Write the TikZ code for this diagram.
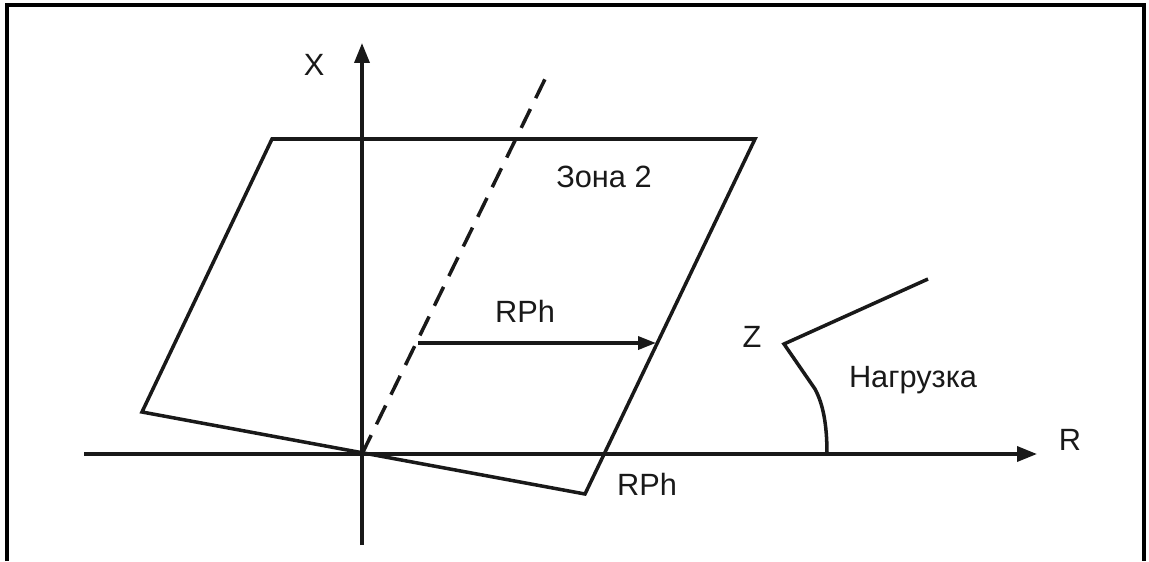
\documentclass[tikz,border=0pt]{standalone}
\usepackage{fontspec}
\setmainfont{Liberation Sans}
\usetikzlibrary{positioning, calc, arrows.meta}
\tikzset{
  >={Triangle[length=0.4cm, width=0.3cm]},
  frameline/.style={
    line width=2pt, draw=black
  },
  axisline/.style={
    line width=2pt, draw=black!90
  },
  zoneline/.style={
    line width=2pt, draw=black!90, line join=miter
  },
  dashline/.style={
    line width=2pt, draw=black!90, dash pattern=on 0.42cm off 0.24cm
  },
  label/.style={
    font=\fontsize{17.5}{20}\selectfont, text=black!90, inner sep=0pt
  },
}
\begin{document}
\begin{tikzpicture}[x=0.02cm, y=-0.02cm]

% ---- Canvas --------------------------------------------------------
\useasboundingbox (0,0) rectangle (1149,561);

% ---- Points --------------------------------------------------------
% origin and axis ends
\coordinate (orig)   at (362, 454);
\coordinate (xlow)   at (362, 545);
\coordinate (xtop)   at (362,  43);
\coordinate (rleft)  at ( 84, 454);
\coordinate (rright) at (1037, 454);

% zone 2 corners
\coordinate (zTL) at (272, 139);
\coordinate (zTR) at (755, 139);
\coordinate (zBR) at (585, 494);
\coordinate (zBL) at (142, 412);

% dashed line end, RPh arrow
\coordinate (dtop)  at (547,  75);
\coordinate (rphA)  at (418, 343);
\coordinate (rphB)  at (656, 343);

% load line
\coordinate (ldtop) at (928, 279);
\coordinate (ldZ)   at (784, 344);
\coordinate (ldK)   at (815, 389);
\coordinate (ldR)   at (827, 454);

% frame corners (open at the bottom)
\coordinate (fTL) at (7, 5);
\coordinate (fTR) at (1144, 5);
\coordinate (fBL) at (7, 561);
\coordinate (fBR) at (1144, 561);

% ---- Labels --------------------------------------------------------
\node[label] (lblX)    at (314,  65) {X};
\node[label] (lblR)    at (1070, 440) {R};
\node[label] (lblZ)    at (752, 337) {Z};
\node[label] (lblZone) at (604, 177) {Зона 2};
\node[label] (lblRPh)  at (525, 311) {RPh};
\node[label] (lblRPhB) at (647, 484) {RPh};
\node[label] (lblLoad) at (913, 380) {Нагрузка};

% ---- Lines ---------------------------------------------------------
% frame
\draw[frameline] (fBL) -- (fTL) -- (fTR) -- (fBR);

% axes
\draw[axisline, ->] (xlow) -- (xtop);
\draw[axisline, ->] (rleft) -- (rright);

% zone 2
\draw[zoneline] (zBL) -- (zTL) -- (zTR) -- (zBR) -- cycle;

% dashed line through the origin
\draw[dashline] (orig) -- (dtop);

% RPh arrow
\draw[axisline, ->, >={Triangle[length=0.36cm, width=0.26cm]}] (rphA) -- (rphB);

% load line
\draw[zoneline] (ldtop) -- (ldZ) -- (ldK)
  .. controls (823,404) and (827,424) .. (ldR);

\end{tikzpicture}
\end{document}
